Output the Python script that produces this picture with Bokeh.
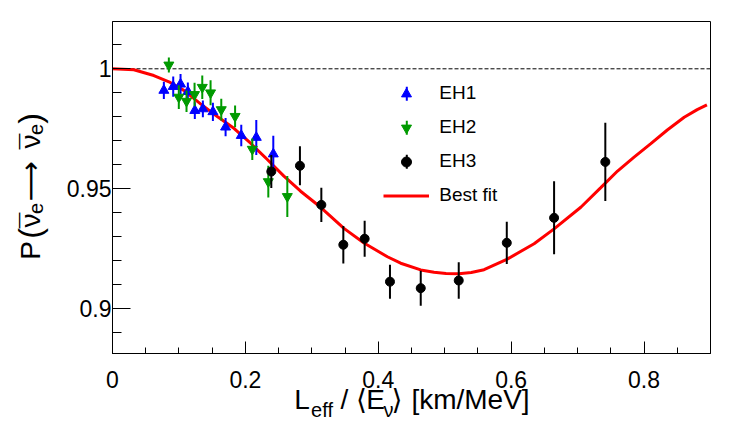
import numpy as np
from bokeh.plotting import figure
from bokeh.models import (Range1d, SingleIntervalTicker, FixedTicker, CustomJSTickFormatter,
                          Span, ColumnDataSource, Legend, LegendItem, BoxAnnotation, LinearAxis)
from bokeh.embed import file_html
from bokeh.resources import INLINE

# ---------------- data ----------------
eh1_x = [0.0773, 0.0914, 0.1024, 0.1134, 0.1239, 0.1360, 0.1511, 0.1702, 0.1938, 0.2164, 0.2420]
eh1_y = [0.9910, 0.9926, 0.9936, 0.9905, 0.9826, 0.9833, 0.9821, 0.9757, 0.9722, 0.9714, 0.9645]
eh1_e = [0.0036, 0.0042, 0.0042, 0.0038, 0.0035, 0.0035, 0.0038, 0.0038, 0.0045, 0.0073, 0.0076]

eh2_x = [0.0848, 0.0998, 0.1114, 0.1235, 0.1351, 0.1476, 0.1637, 0.1845, 0.2104, 0.2345, 0.2631]
eh2_y = [1.0016, 0.9882, 0.9865, 0.9893, 0.9923, 0.9900, 0.9830, 0.9802, 0.9665, 0.9530, 0.9468]
eh2_e = [0.0031, 0.0049, 0.0045, 0.0049, 0.0049, 0.0052, 0.0045, 0.0045, 0.0045, 0.0066, 0.0085]

eh3_x = [0.2390, 0.2821, 0.3143, 0.3474, 0.3795, 0.4176, 0.4639, 0.5211, 0.5934, 0.6646, 0.7417]
eh3_y = [0.9572, 0.9596, 0.9433, 0.9267, 0.9292, 0.9113, 0.9086, 0.9118, 0.9275, 0.9379, 0.9612]
eh3_e = [0.0069, 0.0081, 0.0071, 0.0078, 0.0075, 0.0071, 0.0073, 0.0076, 0.0088, 0.0152, 0.0163]

fit_x = [0.0, 0.0321, 0.0622, 0.0850, 0.1074, 0.1325, 0.1577, 0.1827, 0.2078, 0.2330, 0.2580,
         0.2831, 0.3133, 0.3483, 0.3785, 0.4137, 0.4337, 0.4639, 0.4839, 0.5020, 0.5211,
         0.5400, 0.5592, 0.5934, 0.6345, 0.6646, 0.7048, 0.7349, 0.7601, 0.7850, 0.8102,
         0.8350, 0.8604, 0.8800, 0.8946]
fit_y = [1.0000, 0.9996, 0.9972, 0.9946, 0.9910, 0.9854, 0.9801, 0.9752, 0.9690, 0.9622, 0.9553,
         0.9490, 0.9423, 0.9335, 0.9274, 0.9217, 0.9190, 0.9162, 0.9152, 0.9147, 0.9146,
         0.9151, 0.9163, 0.9206, 0.9271, 0.9333, 0.9423, 0.9505, 0.9574, 0.9632, 0.9688,
         0.9745, 0.9798, 0.9830, 0.9850]

series_names = ["EH1", "EH2", "EH3"]
fit_name = "Best fit"
ref_level = 1.0
x_tick_step, y_tick_step = 0.2, 0.05

# ---------------- layout ----------------
FONT = "Liberation Sans, DejaVu Sans"
FL, FT, FW, FH = 112, 21, 598, 332        # frame position/size in page px
X0, X1 = 0.0, 0.9
Y0, Y1 = 0.88138, 1.01971

def dx(X):   # page px -> data x (layout helper for title pieces)
    return X0 + (X - FL) / FW * (X1 - X0)

def dy(Y):   # page px -> data y
    return Y1 - (Y - FT) / FH * (Y1 - Y0)

p = figure(frame_width=FW, frame_height=FH, min_border_left=FL, min_border_top=FT,
           min_border_right=28, min_border_bottom=70,
           x_range=Range1d(X0, X1), y_range=Range1d(Y0, Y1),
           output_backend="svg", toolbar_location=None)
p.background_fill_color = "white"
p.border_fill_color = "white"
p.outline_line_color = "black"
p.outline_line_width = 1
p.xgrid.visible = False
p.ygrid.visible = False

p.xaxis.ticker = SingleIntervalTicker(interval=x_tick_step, num_minor_ticks=4)
p.yaxis.ticker = SingleIntervalTicker(interval=y_tick_step, num_minor_ticks=5)
fmt = CustomJSTickFormatter(code="return String(Math.round(tick*100)/100);")
for ax in (p.xaxis[0], p.yaxis[0]):
    ax.formatter = fmt
    ax.major_tick_out = 0
    ax.minor_tick_out = 0
    ax.axis_line_color = "black"
    ax.major_tick_line_color = "black"
    ax.minor_tick_line_color = "black"
    ax.major_label_text_font = FONT
    ax.major_label_text_font_size = "23px"
    ax.major_label_text_color = "black"
p.xaxis.major_tick_in = 12
p.xaxis.minor_tick_in = 6
p.yaxis.major_tick_in = 18
p.yaxis.minor_tick_in = 9
p.xaxis.major_label_standoff = 17
p.yaxis.major_label_standoff = 1

# reference dashed line
p.add_layout(Span(location=ref_level, dimension="width", line_color="black",
                  line_dash="4 2", line_width=1, level="underlay"))

# best fit curve
r_fit = p.line(fit_x, fit_y, line_color="#ff0000", line_width=3)

def series(xs, ys, es, color, marker, size):
    src = ColumnDataSource(dict(x=xs, y=ys,
                                lo=[a - b for a, b in zip(ys, es)],
                                hi=[a + b for a, b in zip(ys, es)]))
    p.segment(x0="x", y0="lo", x1="x", y1="hi", source=src, line_color=color, line_width=2)
    return p.scatter("x", "y", source=src, marker=marker, size=size,
                     fill_color=color, line_color=color)

r1 = series(eh1_x, eh1_y, eh1_e, "#0000ff", "triangle", 10)
r2 = series(eh2_x, eh2_y, eh2_e, "#009a00", "inverted_triangle", 10)
r3 = series(eh3_x, eh3_y, eh3_e, "black", "circle", 9)

# ---------------- legend ----------------
SX0, SY0 = FL, FT + FH
LG_LEFT, LG_TOP = 383.3, 80.8
GW, GH, SP = 46, 25, 9
for i, col in enumerate(["#0000ff", "#009a00", "black"]):
    c = LG_TOP + GH / 2 + i * (GH + SP)
    cx = LG_LEFT + GW / 2
    p.add_layout(BoxAnnotation(left=cx - 1 - SX0, right=cx + 1 - SX0,
                               bottom=SY0 - (c + 7), top=SY0 - (c - 7),
                               left_units="screen", right_units="screen",
                               top_units="screen", bottom_units="screen",
                               fill_color=col, fill_alpha=1, line_color=None))

legend = Legend(items=[LegendItem(label=series_names[0], renderers=[r1]),
                       LegendItem(label=series_names[1], renderers=[r2]),
                       LegendItem(label=series_names[2], renderers=[r3]),
                       LegendItem(label=fit_name, renderers=[r_fit])],
                location=(LG_LEFT - SX0, SY0 - (LG_TOP + 4 * GH + 3 * SP)),
                glyph_width=GW, glyph_height=GH, spacing=SP, padding=0, margin=0,
                label_standoff=10, label_text_font=FONT, label_text_font_size="19px",
                label_text_color="black", border_line_color=None,
                background_fill_alpha=0)
p.add_layout(legend)

# ---------------- axis titles as text-only axes (pieces for sub/overbar) ----------------
def text_axis(side, positions, labels, size, standoff, vertical=False):
    ax = LinearAxis(ticker=FixedTicker(ticks=positions, minor_ticks=[]),
                    major_label_overrides={pos: lab for pos, lab in zip(positions, labels)},
                    axis_line_color=None, major_tick_line_color=None,
                    minor_tick_line_color=None, major_tick_in=0, major_tick_out=0,
                    minor_tick_in=0, minor_tick_out=0, major_label_standoff=standoff,
                    major_label_text_font=FONT, major_label_text_font_size=f"{size}px",
                    major_label_text_color="black")
    if vertical:
        ax.major_label_orientation = "vertical"
    p.add_layout(ax, side)

# x title:  L_eff / <E_nu> [km/MeV]
xt_main_pos = [dx(301.5), dx(344.0), dx(361.0), dx(375.0), dx(396.5), dx(470.0)]
xt_main_txt = ["L", "/", "\u27e8", "E", "\u27e9", "[km/MeV]"]
xt_sub_pos = [dx(321.5), dx(388.0)]
xt_sub_txt = ["eff", "\u03bd"]
text_axis("below", xt_main_pos, xt_main_txt, 28, -7)
text_axis("below", xt_sub_pos, xt_sub_txt, 20, -19)

# y title:  P( nu_e-bar -> nu_e-bar )
yt_sub_pos = [dy(208.0), dy(129.0)]
yt_sub_txt = ["e", "e"]
yt_main_pos = [dy(250.0), dy(220.0), dy(220.0) + 1e-9, dy(181.0),
               dy(141.0), dy(141.0) + 1e-9]
yt_main_txt = ["P", "\u03bd", "\u00af", "\u27f6", "\u03bd", "\u00af"]
yt_par_pos = [dy(233.0), dy(118.0)]
yt_par_txt = ["(", ")"]
text_axis("left", yt_sub_pos, yt_sub_txt, 20, 21, vertical=True)
text_axis("left", yt_main_pos, yt_main_txt, 28, -20, vertical=True)
text_axis("left", yt_par_pos, yt_par_txt, 32, -36, vertical=True)

open("out.html", "w").write(file_html(p, INLINE))
